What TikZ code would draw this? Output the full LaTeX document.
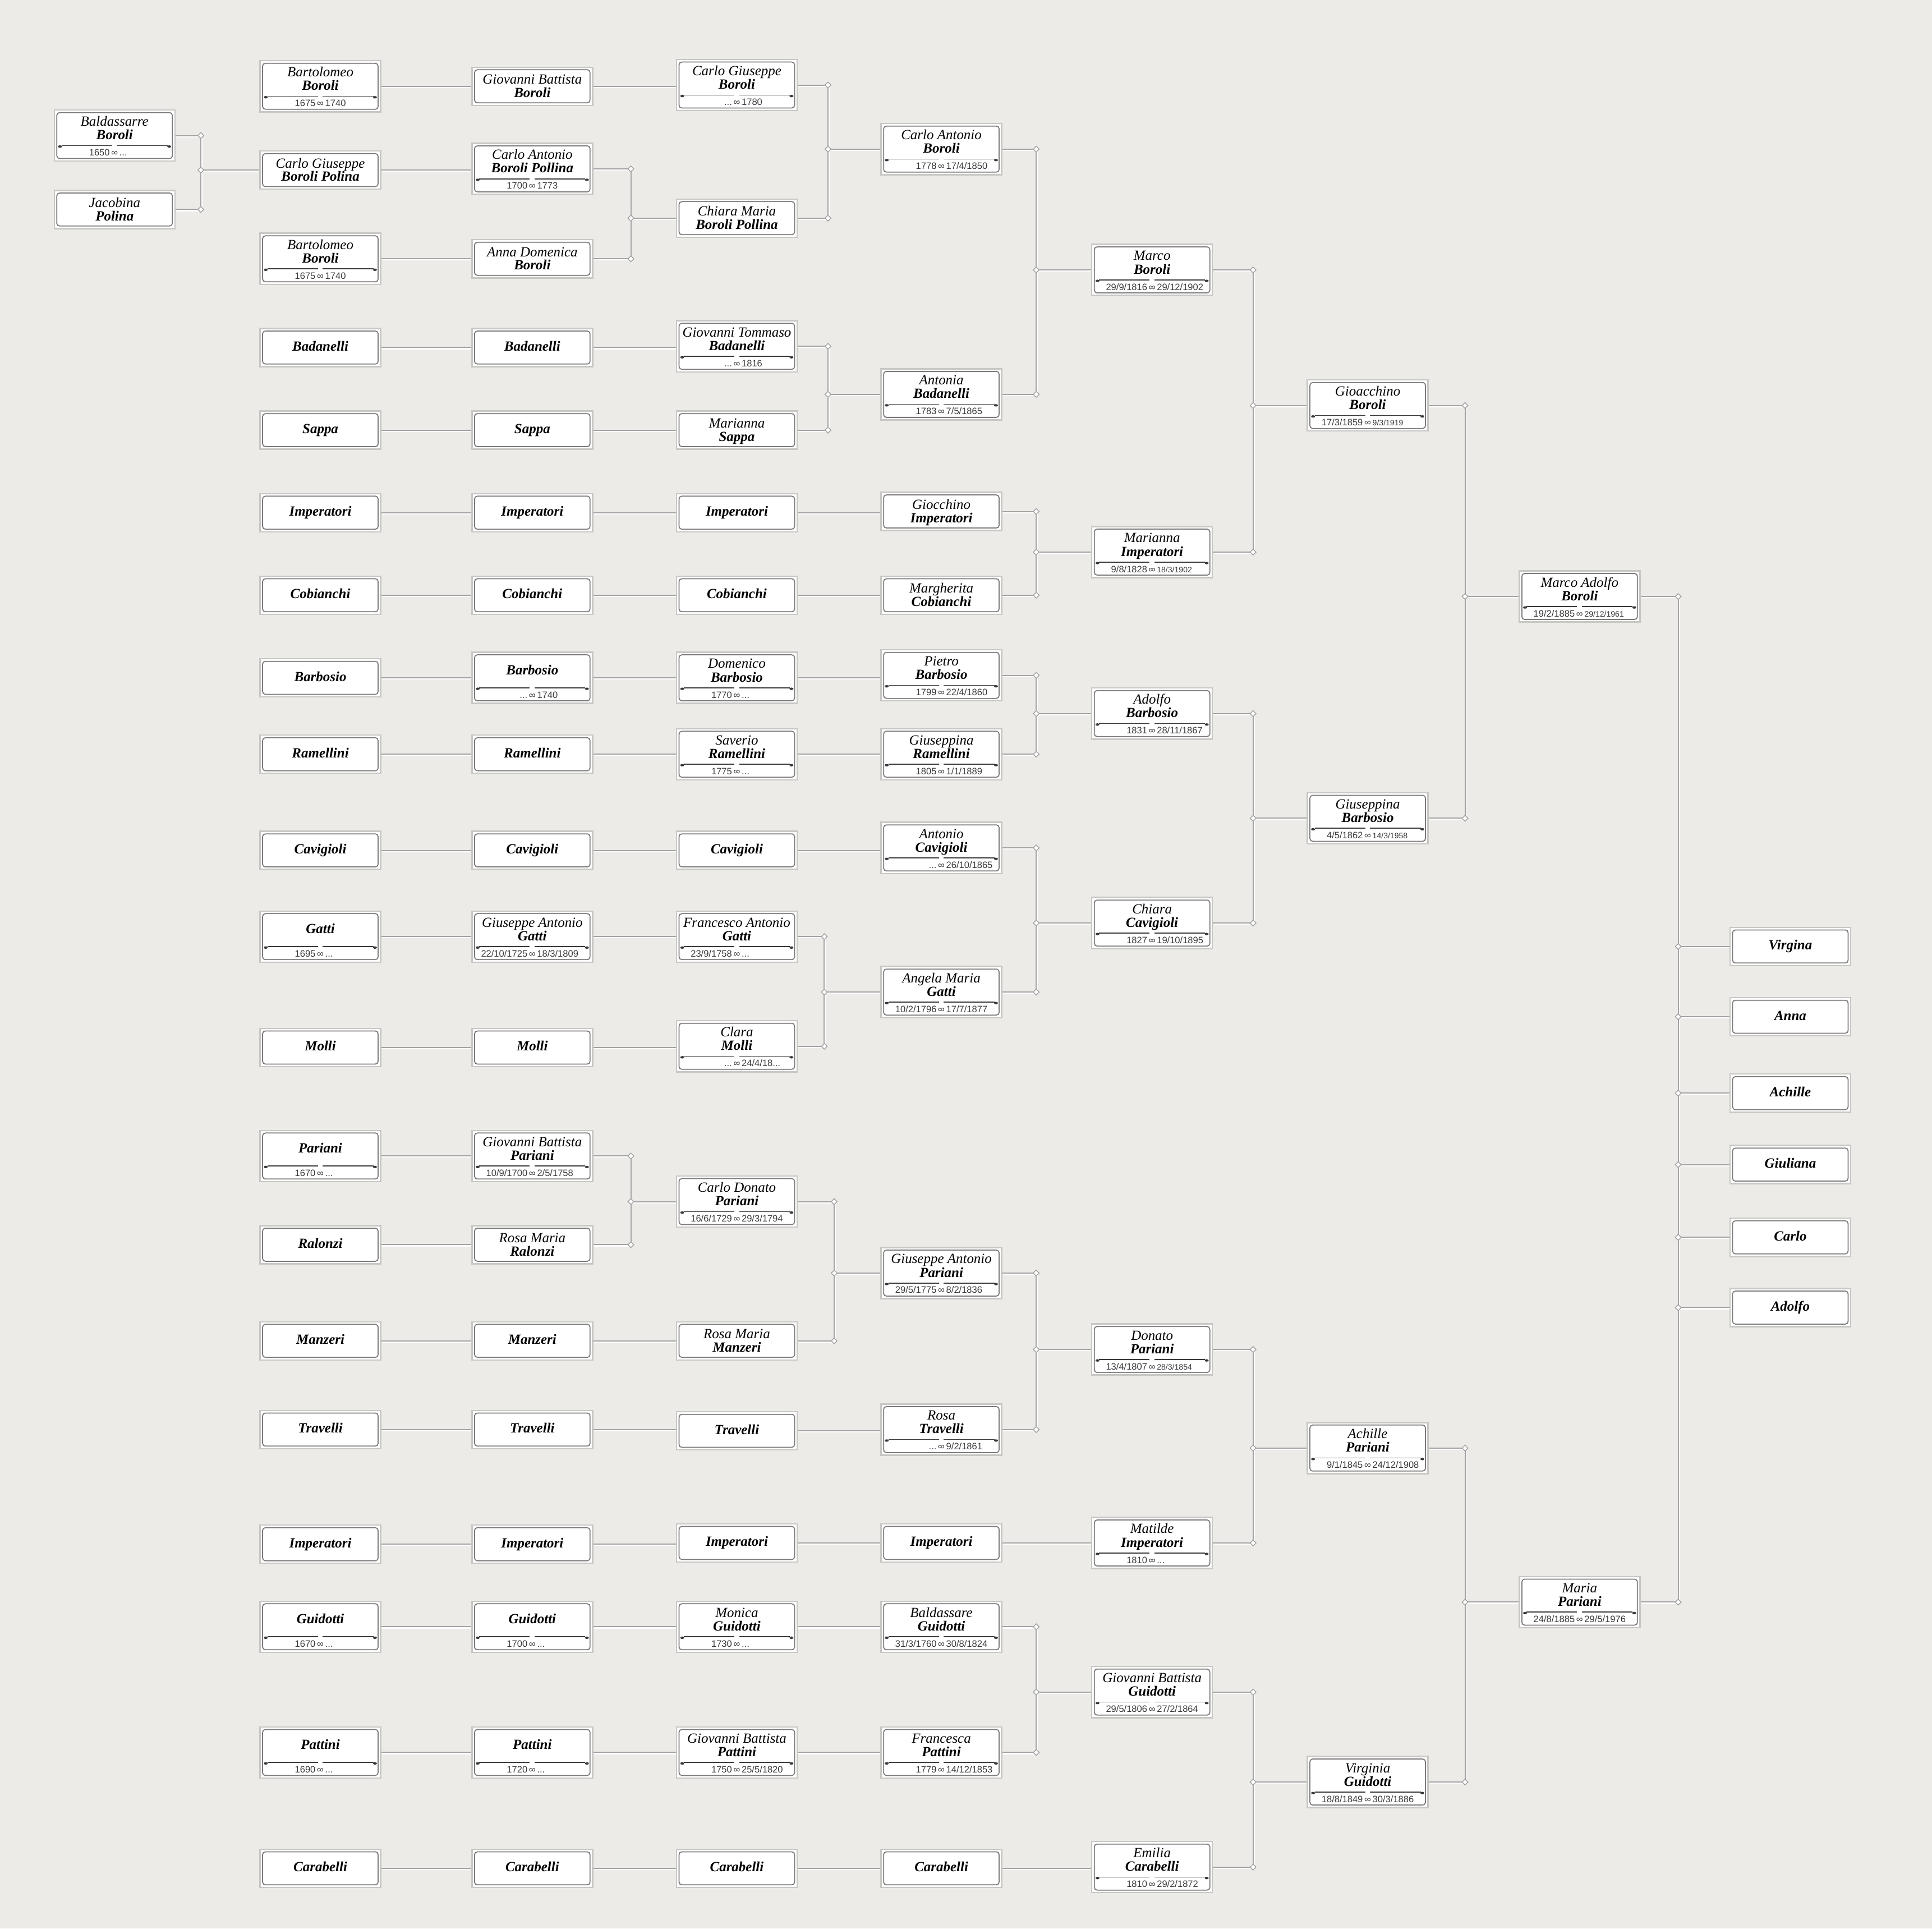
\documentclass[tikz,border=0pt]{standalone}
\usepackage{fontspec}
\setmainfont{Liberation Serif}
\newfontfamily\datefont{Liberation Sans}
\usetikzlibrary{calc,shapes.geometric}
\definecolor{paper}{HTML}{EDEBE8}
\definecolor{linkgray}{HTML}{A3A3A3}
\definecolor{framegray}{HTML}{C9C7C4}
\definecolor{innergray}{HTML}{7A7A7A}
\definecolor{inkgray}{HTML}{3A3A3A}
\pgfdeclarelayer{bg}
\pgfdeclarelayer{links}
\pgfsetlayers{bg,links,main}

\newcommand{\namesize}{\fontsize{7.1}{8.5}\selectfont}
\newcommand{\smd}[1]{{\fontsize{4}{4.5}\selectfont #1}}
\newcommand{\lifespan}[2]{\llap{#1\,}∞\rlap{\,#2}}
\newcommand{\divider}[1]{%
  \draw[rule] ($(#1.north west)+(6.5,29.4)$) -- ($(#1.north)+(-2,29.4)$);
  \draw[rule] ($(#1.north)+(2,29.4)$) -- ($(#1.north east)+(-6.5,29.4)$);
  \fill[leaf] ($(#1.north west)+(5.2,30.2)$) ellipse [x radius=1.6, y radius=1];
  \fill[leaf] ($(#1.north east)+(-5.2,30.2)$) ellipse [x radius=1.6, y radius=1];}
\newcommand{\dated}[6]{%
  \node[dbox] (#1) at (#2) {};
  \node[given]   (#1-g) at ($(#1.north)+(0,10.8)$) {#3};
  \node[surname] (#1-s) at ($(#1.north)+(0,21.8)$) {#4};
  \divider{#1}%
  \node[dates]   (#1-d) at ($(#1.north)+(0,35.3)$) {\lifespan{#5}{#6}};}
\newcommand{\sdated}[5]{%
  \node[dbox] (#1) at (#2) {};
  \node[surname] (#1-s) at ($(#1.north)+(0,16)$) {#3};
  \divider{#1}%
  \node[dates]   (#1-d) at ($(#1.north)+(0,35.3)$) {\lifespan{#4}{#5}};}
\newcommand{\undated}[4]{%
  \node[ubox] (#1) at (#2) {};
  \node[given]   (#1-g) at ($(#1.center)+(0,-4.6)$) {#3};
  \node[surname] (#1-s) at ($(#1.center)+(0,6.2)$)  {#4};}
\newcommand{\surnameonly}[3]{\node[ubox, surname] (#1) at (#2) {#3};}
\newcommand{\couple}[4]{%
  \draw[link] (#1.east) -- (#1.east -| #4) -- (#2.east -| #4) -- (#2.east);
  \draw[link] (#3.west -| #4) -- (#3.west);
  \node[knot] (#3-ka) at (#1.east -| #4) {};
  \node[knot] (#3-kb) at (#2.east -| #4) {};
  \node[knot] (#3-kc) at (#3.west -| #4) {};}
\newcommand{\descent}[2]{\draw[link] (#1.east) -- (#1.east -| #2.west);}

\begin{document}
\begin{tikzpicture}[
  x=0.02196cm, y=-0.02196cm,
  box/.style    = {rectangle, fill=white, draw=framegray, line width=0.7pt,
                   minimum width=2.15cm, inner sep=0pt,
                   path picture={\draw[innergray, line width=0.5pt, rounded corners=1.4pt]
                     ([shift={(1.3pt,1.3pt)}]path picture bounding box.south west) rectangle
                     ([shift={(-1.3pt,-1.3pt)}]path picture bounding box.north east);}},
  dbox/.style   = {box, minimum height=0.911cm},
  ubox/.style   = {box, minimum height=0.68cm},
  given/.style  = {font=\namesize\itshape, inner sep=0pt, text height=4.9pt, text depth=1.5pt},
  surname/.style= {font=\namesize\bfseries\itshape, inner sep=0pt, text height=4.9pt, text depth=1.5pt},
  dates/.style  = {font=\datefont\fontsize{4.7}{5.5}\selectfont, text=black!78, inner sep=0pt,
                   text height=3.4pt, text depth=0.4pt},
  rule/.style   = {draw=inkgray, line width=0.45pt},
  leaf/.style   = {fill=inkgray},
  link/.style   = {draw=linkgray, line width=0.55pt,
                   preaction={draw=white, line width=0.9pt, transform canvas={xshift=0.35pt, yshift=-0.45pt}}},
  knot/.style   = {diamond, draw=linkgray, fill=white, line width=0.4pt, inner sep=0pt, minimum size=0.11cm},
]
\useasboundingbox (0,0) rectangle (1568,1565);
\begin{pgfonlayer}{bg}
  \fill[paper] (0,0) rectangle (1568,1565);
\end{pgfonlayer}

% junction columns
\coordinate (j0) at (163,0);
\coordinate (j2) at (512,0);
\coordinate (j3) at (672,0);
\coordinate (j3a) at (669,0);
\coordinate (j3b) at (677,0);
\coordinate (j4) at (841,0);
\coordinate (j5) at (1017,0);
\coordinate (j6) at (1189,0);
\coordinate (j7) at (1362,0);

% ---------- generation 0 -------------------------------------------------
\dated{bal}{93,110}{Baldassarre}{Boroli}{1650}{...}
\undated{jac}{93,170}{Jacobina}{Polina}

% ---------- generation 1 -------------------------------------------------
\dated{bar1a}{260,70}{Bartolomeo}{Boroli}{1675}{1740}
\undated{cgbp}{260,138}{Carlo Giuseppe}{Boroli Polina}
\dated{bar1b}{260,210}{Bartolomeo}{Boroli}{1675}{1740}
\surnameonly{bad1}{260,282}{Badanelli}
\surnameonly{sap1}{260,349}{Sappa}
\surnameonly{imp1}{260,416}{Imperatori}
\surnameonly{cob1}{260,483}{Cobianchi}
\surnameonly{bbs1}{260,550}{Barbosio}
\surnameonly{ram1}{260,612}{Ramellini}
\surnameonly{cav1}{260,690}{Cavigioli}
\sdated{gat1}{260,760}{Gatti}{1695}{...}
\surnameonly{mol1}{260,850}{Molli}
\sdated{par1}{260,938}{Pariani}{1670}{...}
\surnameonly{ral1}{260,1010}{Ralonzi}
\surnameonly{man1}{260,1088}{Manzeri}
\surnameonly{tra1}{260,1160}{Travelli}
\surnameonly{imq1}{260,1253}{Imperatori}
\sdated{gui1}{260,1320}{Guidotti}{1670}{...}
\sdated{pat1}{260,1422}{Pattini}{1690}{...}
\surnameonly{car1}{260,1516}{Carabelli}

% ---------- generation 2 -------------------------------------------------
\undated{gbb}{432,70}{Giovanni Battista}{Boroli}
\dated{cabp}{432,137}{Carlo Antonio}{Boroli Pollina}{1700}{1773}
\undated{adb}{432,210}{Anna Domenica}{Boroli}
\surnameonly{bad2}{432,282}{Badanelli}
\surnameonly{sap2}{432,349}{Sappa}
\surnameonly{imp2}{432,416}{Imperatori}
\surnameonly{cob2}{432,483}{Cobianchi}
\sdated{bbs2}{432,550}{Barbosio}{...}{1740}
\surnameonly{ram2}{432,612}{Ramellini}
\surnameonly{cav2}{432,690}{Cavigioli}
\dated{gag}{432,760}{Giuseppe Antonio}{Gatti}{22/10/1725}{18/3/1809}
\surnameonly{mol2}{432,850}{Molli}
\dated{gbpa}{432,938}{Giovanni Battista}{Pariani}{10/9/1700}{2/5/1758}
\undated{rmra}{432,1010}{Rosa Maria}{Ralonzi}
\surnameonly{man2}{432,1088}{Manzeri}
\surnameonly{tra2}{432,1160}{Travelli}
\surnameonly{imq2}{432,1253}{Imperatori}
\sdated{gui2}{432,1320}{Guidotti}{1700}{...}
\sdated{pat2}{432,1422}{Pattini}{1720}{...}
\surnameonly{car2}{432,1516}{Carabelli}

% ---------- generation 3 -------------------------------------------------
\dated{cgb}{598,69}{Carlo Giuseppe}{Boroli}{...}{1780}
\undated{cmbp}{598,177}{Chiara Maria}{Boroli Pollina}
\dated{gtb}{598,281}{Giovanni Tommaso}{Badanelli}{...}{1816}
\undated{msa}{598,349}{Marianna}{Sappa}
\surnameonly{imp3}{598,416}{Imperatori}
\surnameonly{cob3}{598,483}{Cobianchi}
\dated{dba}{598,550}{Domenico}{Barbosio}{1770}{...}
\dated{sra}{598,612}{Saverio}{Ramellini}{1775}{...}
\surnameonly{cav3}{598,690}{Cavigioli}
\dated{fag}{598,760}{Francesco Antonio}{Gatti}{23/9/1758}{...}
\dated{cmo}{598,849}{Clara}{Molli}{...}{24/4/18...}
\dated{cdp}{598,975}{Carlo Donato}{Pariani}{16/6/1729}{29/3/1794}
\undated{rmma}{598,1088}{Rosa Maria}{Manzeri}
\surnameonly{tra3}{598,1161}{Travelli}
\surnameonly{imq3}{598,1252}{Imperatori}
\dated{mgu}{598,1320}{Monica}{Guidotti}{1730}{...}
\dated{gbpt}{598,1422}{Giovanni Battista}{Pattini}{1750}{25/5/1820}
\surnameonly{car3}{598,1516}{Carabelli}

% ---------- generation 4 -------------------------------------------------
\dated{cab}{764,121}{Carlo Antonio}{Boroli}{1778}{17/4/1850}
\dated{aba}{764,320}{Antonia}{Badanelli}{1783}{7/5/1865}
\undated{gim}{764,415}{Giocchino}{Imperatori}
\undated{mco}{764,483}{Margherita}{Cobianchi}
\dated{pba}{764,548}{Pietro}{Barbosio}{1799}{22/4/1860}
\dated{gra}{764,612}{Giuseppina}{Ramellini}{1805}{1/1/1889}
\dated{aca}{764,688}{Antonio}{Cavigioli}{...}{26/10/1865}
\dated{amg}{764,805}{Angela Maria}{Gatti}{10/2/1796}{17/7/1877}
\dated{gap}{764,1033}{Giuseppe Antonio}{Pariani}{29/5/1775}{8/2/1836}
\dated{rtr}{764,1160}{Rosa}{Travelli}{...}{9/2/1861}
\surnameonly{imq4}{764,1252}{Imperatori}
\dated{bgu}{764,1320}{Baldassare}{Guidotti}{31/3/1760}{30/8/1824}
\dated{fpa}{764,1422}{Francesca}{Pattini}{1779}{14/12/1853}
\surnameonly{car4}{764,1516}{Carabelli}

% ---------- generation 5 -------------------------------------------------
\dated{mbo}{935,219}{Marco}{Boroli}{29/9/1816}{29/12/1902}
\dated{mim}{935,448}{Marianna}{Imperatori}{9/8/1828}{\smd{18/3/1902}}
\dated{abr}{935,579}{Adolfo}{Barbosio}{1831}{28/11/1867}
\dated{cca}{935,749}{Chiara}{Cavigioli}{1827}{19/10/1895}
\dated{dpa}{935,1095}{Donato}{Pariani}{13/4/1807}{\smd{28/3/1854}}
\dated{mti}{935,1252}{Matilde}{Imperatori}{1810}{...}
\dated{gbg}{935,1373}{Giovanni Battista}{Guidotti}{29/5/1806}{27/2/1864}
\dated{eca}{935,1515}{Emilia}{Carabelli}{1810}{29/2/1872}

% ---------- generation 6 -------------------------------------------------
\dated{gbo}{1110,329}{Gioacchino}{Boroli}{17/3/1859}{\smd{9/3/1919}}
\dated{gba}{1110,664}{Giuseppina}{Barbosio}{4/5/1862}{\smd{14/3/1958}}
\dated{apa}{1110,1175}{Achille}{Pariani}{9/1/1845}{24/12/1908}
\dated{vgu}{1110,1446}{Virginia}{Guidotti}{18/8/1849}{30/3/1886}

% ---------- generation 7 and children ------------------------------------
\dated{mab}{1282,484}{Marco Adolfo}{Boroli}{19/2/1885}{\smd{29/12/1961}}
\dated{mpa}{1282,1300}{Maria}{Pariani}{24/8/1885}{29/5/1976}
\surnameonly{kvir}{1453,768}{Virgina}
\surnameonly{kann}{1453,825}{Anna}
\surnameonly{kach}{1453,887}{Achille}
\surnameonly{kgiu}{1453,945}{Giuliana}
\surnameonly{kcar}{1453,1004}{Carlo}
\surnameonly{kado}{1453,1061}{Adolfo}

% ---------- connectors ---------------------------------------------------
\begin{pgfonlayer}{links}
\couple{bal}{jac}{cgbp}{j0}

\descent{bar1a}{gbb}  \descent{cgbp}{cabp} \descent{bar1b}{adb}
\descent{bad1}{bad2}  \descent{sap1}{sap2} \descent{imp1}{imp2}
\descent{cob1}{cob2}  \descent{bbs1}{bbs2} \descent{ram1}{ram2}
\descent{cav1}{cav2}  \descent{gat1}{gag}  \descent{mol1}{mol2}
\descent{par1}{gbpa}  \descent{ral1}{rmra} \descent{man1}{man2}
\descent{tra1}{tra2}  \descent{imq1}{imq2} \descent{gui1}{gui2}
\descent{pat1}{pat2}  \descent{car1}{car2}

\descent{gbb}{cgb}
\couple{cabp}{adb}{cmbp}{j2}
\descent{bad2}{gtb}   \descent{sap2}{msa}  \descent{imp2}{imp3}
\descent{cob2}{cob3}  \descent{bbs2}{dba}  \descent{ram2}{sra}
\descent{cav2}{cav3}  \descent{gag}{fag}   \descent{mol2}{cmo}
\couple{gbpa}{rmra}{cdp}{j2}
\descent{man2}{rmma}  \descent{tra2}{tra3} \descent{imq2}{imq3}
\descent{gui2}{mgu}   \descent{pat2}{gbpt} \descent{car2}{car3}

\couple{cgb}{cmbp}{cab}{j3}
\couple{gtb}{msa}{aba}{j3}
\descent{imp3}{gim}   \descent{cob3}{mco}  \descent{dba}{pba}
\descent{sra}{gra}    \descent{cav3}{aca}
\couple{fag}{cmo}{amg}{j3a}
\couple{cdp}{rmma}{gap}{j3b}
\descent{tra3}{rtr}   \descent{imq3}{imq4} \descent{mgu}{bgu}
\descent{gbpt}{fpa}   \descent{car3}{car4}

\couple{cab}{aba}{mbo}{j4}
\couple{gim}{mco}{mim}{j4}
\couple{pba}{gra}{abr}{j4}
\couple{aca}{amg}{cca}{j4}
\couple{gap}{rtr}{dpa}{j4}
\descent{imq4}{mti}
\couple{bgu}{fpa}{gbg}{j4}
\descent{car4}{eca}

\couple{mbo}{mim}{gbo}{j5}
\couple{abr}{cca}{gba}{j5}
\couple{dpa}{mti}{apa}{j5}
\couple{gbg}{eca}{vgu}{j5}

\couple{gbo}{gba}{mab}{j6}
\couple{apa}{vgu}{mpa}{j6}

\draw[link] (mab.east) -- (mab.east -| j7) -- (mpa.east -| j7) -- (mpa.east);
\node[knot] (mab-k) at (mab.east -| j7) {};
\node[knot] (mpa-k) at (mpa.east -| j7) {};
\foreach \kid in {kvir,kann,kach,kgiu,kcar,kado}{
  \draw[link] (\kid.west -| j7) -- (\kid.west);
  \node[knot] (\kid-k) at (\kid.west -| j7) {};
}
\end{pgfonlayer}

\end{tikzpicture}
\end{document}
